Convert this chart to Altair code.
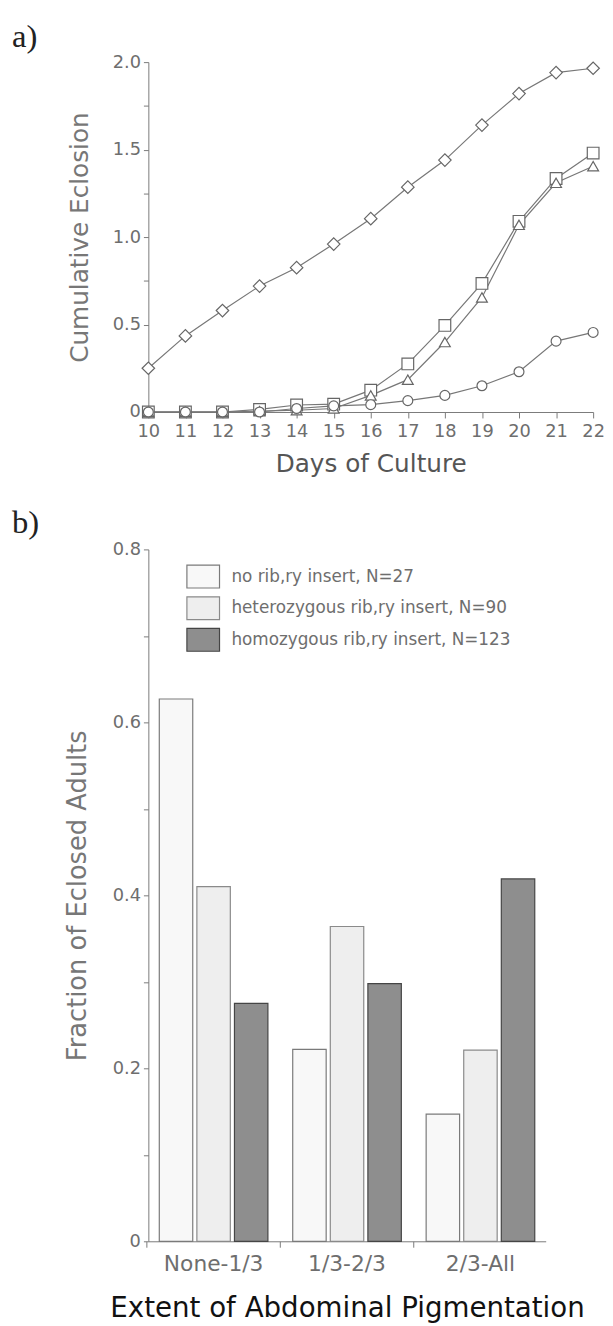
import altair as alt
import pandas as pd

# ---------------- Panel a data ----------------
days = [10, 11, 12, 13, 14, 15, 16, 17, 18, 19, 20, 21, 22]
series_names = ["diamond", "square", "triangle", "circle"]
diamond_vals = [0.25, 0.435, 0.58, 0.72, 0.825, 0.96, 1.105, 1.285, 1.44, 1.64, 1.82, 1.94, 1.965]
square_vals = [0, 0, 0, 0.015, 0.04, 0.045, 0.125, 0.275, 0.495, 0.735, 1.09, 1.335, 1.48]
triangle_vals = [0, 0, 0, 0.005, 0.01, 0.02, 0.095, 0.185, 0.40, 0.655, 1.07, 1.31, 1.405]
circle_vals = [0, 0, 0, 0, 0.02, 0.035, 0.042, 0.065, 0.095, 0.15, 0.23, 0.405, 0.455]
shape_range = ["diamond", "square", "triangle-up", "circle"]
size_range = [160, 100, 120, 115]
y_ticks_a = [0, 0.25, 0.5, 0.75, 1.0, 1.25, 1.5, 1.75, 2.0]

# ---------------- Panel b data ----------------
categories = ["None-1/3", "1/3-2/3", "2/3-All"]
groups = ["no rib,ry insert, N=27",
          "heterozygous rib,ry insert, N=90",
          "homozygous rib,ry insert, N=123"]
no_insert = [0.627, 0.222, 0.147]
hetero = [0.410, 0.364, 0.221]
homo = [0.275, 0.298, 0.419]
fill_range = ["#f8f8f8", "#eeeeee", "#8e8e8e"]
stroke_range = ["#7a7a7a", "#8a8a8a", "#454545"]
y_ticks_b = [0, 0.1, 0.2, 0.3, 0.4, 0.5, 0.6, 0.7, 0.8]

FONT = "DejaVu Sans"
GREY = "#6e6e6e"
AXIS = "#7a7a7a"

rows = []
for name, vals in zip(series_names, [diamond_vals, square_vals, triangle_vals, circle_vals]):
    for d, v in zip(days, vals):
        rows.append({"day": d, "value": v, "series": name})
df_a = pd.DataFrame(rows)

x_a = alt.X("day:Q", scale=alt.Scale(domain=[10, 22], nice=False, zero=False),
            axis=alt.Axis(values=days, format="d", title="Days of Culture",
                          labelFontSize=18, labelColor=GREY, labelPadding=5,
                          labelFlush=False, labelOverlap=False,
                          tickSize=6, tickColor=AXIS, domainColor=AXIS,
                          titleFontSize=25, titleColor="#555555", titleFontWeight="normal",
                          titlePadding=11, labelFont=FONT, titleFont=FONT, grid=False))
y_a = alt.Y("value:Q", scale=alt.Scale(domain=[0, 2], nice=False),
            axis=alt.Axis(values=y_ticks_a,
                          labelExpr="(round(datum.value*100) % 50 == 0) ? (datum.value == 0 ? '0' : format(datum.value, '.1f')) : ''",
                          title="Cumulative Eclosion", labelFontSize=18, labelColor=GREY,
                          labelPadding=3, tickSize=5, tickColor=AXIS, domainColor=AXIS,
                          labelFlush=False, labelOverlap=False,
                          titleFontSize=25, titleColor="#777777", titleFontWeight="normal",
                          titlePadding=20, labelFont=FONT, titleFont=FONT, grid=False))

lines = alt.Chart(df_a).mark_line(color="#777777", strokeWidth=1.2).encode(
    x=x_a, y=y_a, detail="series:N")
points = alt.Chart(df_a).mark_point(fill="white", filled=True, stroke="#666666",
                                    strokeWidth=1.2, opacity=1).encode(
    x=x_a, y=y_a,
    shape=alt.Shape("series:N", scale=alt.Scale(domain=series_names, range=shape_range), legend=None),
    size=alt.Size("series:N", scale=alt.Scale(domain=series_names, range=size_range), legend=None))
lab_a = alt.Chart(pd.DataFrame({"t": ["a)"]})).mark_text(
    font="Liberation Serif", fontSize=33, align="left", baseline="alphabetic", color="#222222").encode(
    text="t:N", x=alt.value(-138), y=alt.value(-15))

panel_a = alt.layer(lines, points, lab_a).properties(width=450, height=354)

# ---------------- Panel b ----------------
rows_b = []
for g, vals in zip(groups, [no_insert, hetero, homo]):
    for c, v in zip(categories, vals):
        rows_b.append({"cat": c, "group": g, "frac": v})
df_b = pd.DataFrame(rows_b)

y_b = alt.Y("frac:Q", scale=alt.Scale(domain=[0, 0.8], nice=False),
            axis=alt.Axis(values=y_ticks_b,
                          labelExpr="(round(datum.value*10) % 2 == 0) ? (datum.value == 0 ? '0' : format(datum.value, '.1f')) : ''",
                          title="Fraction of Eclosed Adults", labelFontSize=18, labelColor=GREY,
                          labelPadding=3, tickSize=5, tickColor=AXIS, domainColor=AXIS,
                          labelFlush=False, labelOverlap=False,
                          titleFontSize=26, titleColor="#777777", titleFontWeight="normal",
                          titlePadding=22, labelFont=FONT, titleFont=FONT, grid=False))
x_scale_b = alt.Scale(domain=categories, paddingInner=0.186, paddingOuter=0.082)

# legends of concatenated views are placed at the top level, so legendY is
# measured from the top of panel a's plot area
legend_b = alt.Legend(title=None, orient="none", legendX=38, legendY=503,
                      symbolType="M-1,-0.7L1,-0.7L1,0.7L-1,0.7Z", symbolSize=1089,
                      symbolStrokeWidth=1.2, labelFontSize=17, labelColor=GREY,
                      labelFont=FONT, labelOffset=11, rowPadding=0, padding=0,
                      labelLimit=500, symbolOpacity=1)

bars = alt.Chart(df_b).mark_bar(strokeWidth=1.2).encode(
    x=alt.X("cat:N", sort=categories, scale=x_scale_b,
            axis=alt.Axis(title="Extent of Abdominal Pigmentation", labelAngle=0, orient="bottom",
                          labelFontSize=22, labelColor=GREY, labelPadding=13, ticks=False,
                          domainColor=AXIS, titleFontSize=28, titleColor="#111111",
                          titleFontWeight="normal", titlePadding=20, labelFont=FONT,
                          titleFont=FONT, grid=False)),
    xOffset=alt.XOffset("group:N", sort=groups,
                        scale=alt.Scale(domain=groups, paddingInner=0.11, paddingOuter=0)),
    y=y_b,
    fill=alt.Fill("group:N", sort=groups, scale=alt.Scale(domain=groups, range=fill_range), legend=legend_b),
    stroke=alt.Stroke("group:N", sort=groups, scale=alt.Scale(domain=groups, range=stroke_range), legend=legend_b),
)
tick_layer = alt.Chart(df_b).mark_point(opacity=0).encode(
    x=alt.X("cat:N", sort=categories, scale=x_scale_b,
            axis=alt.Axis(title=None, labels=False, domain=False, ticks=True, tickSize=6,
                          orient="bottom", tickColor=AXIS, bandPosition=-0.114, grid=False)),
    y=y_b)
lab_b = alt.Chart(pd.DataFrame({"t": ["b)"]})).mark_text(
    font="Liberation Serif", fontSize=33, align="left", baseline="alphabetic", color="#222222").encode(
    text="t:N", x=alt.value(-138), y=alt.value(-17))

panel_b = alt.layer(bars, tick_layer, lab_b).resolve_axis(x="independent").properties(width=402, height=700)

chart = alt.vconcat(panel_a, panel_b, spacing=139, bounds="flush").properties(
    padding={"left": 4, "top": 6, "right": 0, "bottom": 0}
).configure(font=FONT).configure_view(stroke=None)

chart.save("out.html", embed_options={"renderer": "svg", "actions": False})
